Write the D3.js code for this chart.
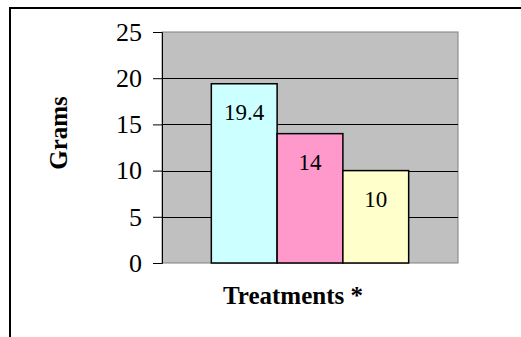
<!DOCTYPE html>
<html>
<head>
<meta charset="utf-8">
<script src="https://cdn.jsdelivr.net/npm/d3@7"></script>
<style>
  html, body { margin: 0; padding: 0; background: #fff; }
  svg { display: block; }
  text { font-family: "Liberation Serif", "Times New Roman", serif; fill: #000; }
</style>
</head>
<body>
<script>
// Chart data
const categories = ["A", "B", "C"];
const values = [19.4, 14, 10];
const labels = ["19.4", "14", "10"];
const barColors = ["#ccffff", "#ff99cc", "#ffffcc"];
const yTicks = [0, 5, 10, 15, 20, 25];
const yTitle = "Grams";
const xTitle = "Treatments *";

const W = 521, H = 337;
const plot = { left: 162, right: 458, top: 32, bottom: 263 };

const svg = d3.select("body").append("svg")
  .attr("width", W).attr("height", H);

// Outer frame (continues past the right and bottom edges)
svg.append("path")
  .attr("d", `M10,${H + 5} L10,8 L${W + 5},8`)
  .attr("fill", "none").attr("stroke", "#000").attr("stroke-width", 2);

const y = d3.scaleLinear().domain([0, 25]).range([plot.bottom, plot.top]);
const x = d3.scaleBand().domain(categories)
  .range([plot.left, plot.right]).paddingInner(0).paddingOuter(0.75);

// Plot area background
svg.append("rect")
  .attr("x", plot.left).attr("y", plot.top)
  .attr("width", plot.right - plot.left).attr("height", plot.bottom - plot.top)
  .attr("fill", "#c0c0c0").attr("stroke", "#808080").attr("stroke-width", 1);

// Horizontal gridlines
svg.append("g").selectAll("line")
  .data(yTicks.filter(d => d > 0 && d < 25))
  .join("line")
  .attr("x1", plot.left).attr("x2", plot.right)
  .attr("y1", d => Math.round(y(d)) + 0.5).attr("y2", d => Math.round(y(d)) + 0.5)
  .attr("stroke", "#000").attr("stroke-width", 1);

// Y axis
const yAxis = svg.append("g")
  .attr("transform", `translate(${plot.left},0)`)
  .call(d3.axisLeft(y).tickValues(yTicks).tickSize(9).tickPadding(11).tickFormat(d3.format("d")));
yAxis.select(".domain").attr("stroke", "#000");
yAxis.selectAll(".tick line").attr("stroke", "#000");
yAxis.selectAll(".tick text")
  .style("font-family", '"Liberation Serif", "Times New Roman", serif')
  .style("font-size", "26px").attr("fill", "#000");

// Bars
svg.append("g").selectAll("rect")
  .data(values)
  .join("rect")
  .attr("x", (d, i) => x(categories[i]))
  .attr("y", d => y(d))
  .attr("width", x.bandwidth())
  .attr("height", d => y(0) - y(d))
  .attr("fill", (d, i) => barColors[i])
  .attr("stroke", "#000").attr("stroke-width", 1.5);

// Value labels inside bar tops
svg.append("g").selectAll("text")
  .data(values)
  .join("text")
  .attr("x", (d, i) => x(categories[i]) + x.bandwidth() / 2)
  .attr("y", d => y(d) + 36)
  .attr("text-anchor", "middle")
  .style("font-size", "23px")
  .text((d, i) => labels[i]);

// Axis titles
svg.append("text")
  .attr("transform", `translate(67,133) rotate(-90)`)
  .attr("text-anchor", "middle")
  .style("font-size", "25px").style("font-weight", "bold")
  .text(yTitle);

svg.append("text")
  .attr("x", 293).attr("y", 304)
  .attr("text-anchor", "middle")
  .style("font-size", "25px").style("font-weight", "bold")
  .text(xTitle);
</script>
</body>
</html>
